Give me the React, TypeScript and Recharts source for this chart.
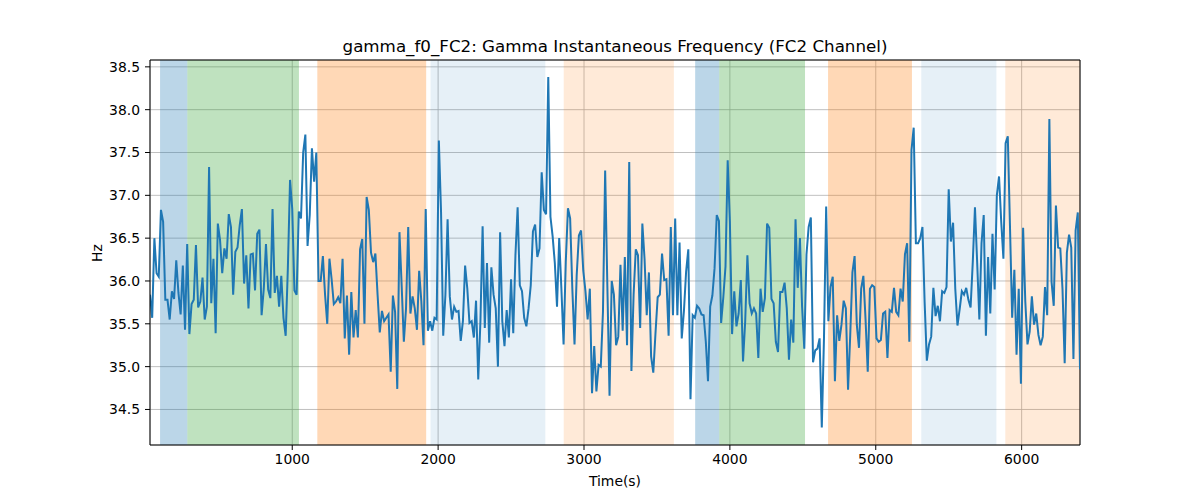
import { LineChart, Line, XAxis, YAxis, CartesianGrid, ReferenceArea, ReferenceLine } from 'recharts';

// sampling clock of the gamma f0 trace (seconds)
const SAMPLE_START = 25;
const SAMPLE_STEP = 15;

const gammaF0: number[] = [
  35.84, 35.57, 36.50, 36.09, 36.05, 36.83, 36.69, 35.78, 35.78, 35.55,
  35.88, 35.79, 36.24, 35.86, 35.61, 36.18, 35.43, 36.43, 35.38, 35.73,
  35.78, 36.42, 35.69, 35.76, 36.04, 35.55, 35.70, 37.33, 35.74, 36.26,
  35.39, 36.67, 36.48, 36.09, 36.38, 36.26, 36.78, 36.63, 35.84, 36.34,
  36.39, 36.65, 36.84, 35.97, 36.30, 35.68, 36.31, 36.32, 35.89, 36.55,
  36.60, 35.60, 35.91, 36.43, 35.90, 35.80, 36.84, 35.86, 36.06, 35.70,
  36.06, 35.57, 35.36, 36.15, 37.18, 36.84, 35.89, 35.84, 36.81, 36.73,
  37.50, 37.71, 36.41, 36.77, 37.55, 37.16, 37.50, 36.00, 36.00, 36.29,
  35.84, 35.50, 36.26, 36.02, 35.73, 35.76, 35.81, 35.74, 36.26, 35.33,
  35.83, 35.14, 35.87, 35.34, 35.66, 35.34, 36.37, 36.49, 35.50, 36.98,
  36.83, 36.33, 36.22, 36.32, 35.84, 35.40, 35.65, 35.53, 35.57, 35.61,
  34.94, 35.83, 35.64, 34.74, 36.57, 35.95, 35.29, 35.68, 36.63, 35.62,
  35.82, 35.68, 35.43, 36.12, 35.76, 35.25, 36.84, 35.42, 35.53, 35.42,
  35.57, 35.55, 37.64, 36.81, 35.36, 35.84, 36.72, 35.82, 35.55, 35.70,
  35.64, 35.65, 35.30, 35.53, 36.18, 35.91, 35.51, 35.53, 35.34, 35.77,
  34.85, 35.53, 36.64, 35.45, 36.21, 35.28, 36.16, 35.84, 35.68, 35.00,
  36.57, 35.53, 35.24, 35.66, 35.34, 36.02, 35.39, 36.30, 36.86, 35.95,
  35.88, 35.57, 35.47, 35.68, 35.95, 36.58, 36.66, 36.28, 36.38, 37.27,
  36.83, 36.78, 38.38, 36.75, 36.52, 36.21, 35.70, 36.50, 35.91, 35.26,
  36.22, 36.85, 36.73, 35.91, 35.26, 36.07, 36.53, 36.59, 36.12, 35.88,
  35.55, 35.91, 34.69, 35.24, 34.71, 35.02, 35.00, 35.64, 37.29, 35.95,
  34.66, 36.00, 35.84, 35.25, 35.35, 36.19, 35.42, 36.28, 35.25, 37.39,
  34.95, 35.84, 36.37, 36.30, 35.45, 36.67, 36.26, 35.60, 36.10, 35.12,
  34.93, 35.39, 35.81, 35.84, 36.32, 36.01, 36.02, 35.36, 36.63, 35.60,
  36.73, 35.60, 36.45, 35.33, 35.65, 36.11, 36.37, 34.62, 35.60, 35.57,
  35.71, 35.68, 35.61, 35.60, 35.29, 34.83, 35.70, 35.83, 36.15, 36.77,
  36.70, 35.51, 35.81, 36.17, 37.41, 36.69, 35.38, 35.88, 35.47, 35.62,
  36.01, 35.06, 35.53, 36.30, 35.74, 35.62, 35.68, 35.62, 35.10, 35.91,
  35.64, 35.80, 36.67, 36.62, 35.79, 35.74, 35.29, 35.17, 35.87, 35.87,
  35.98, 35.68, 35.08, 35.55, 35.28, 36.72, 35.92, 36.50, 35.70, 35.21,
  36.31, 36.63, 36.74, 35.05, 35.19, 35.21, 35.33, 34.29, 35.33, 36.87,
  35.53, 35.93, 36.05, 34.83, 35.60, 35.30, 35.49, 35.77, 35.68, 34.73,
  35.37, 36.10, 36.29, 35.49, 35.22, 35.91, 36.06, 35.55, 34.94, 35.91,
  35.95, 35.93, 35.33, 35.29, 35.31, 35.62, 35.64, 35.10, 35.66, 35.64,
  35.92, 35.64, 35.60, 35.91, 35.76, 36.31, 36.44, 35.29, 37.53, 37.79,
  36.44, 36.44, 36.50, 36.63, 35.75, 35.07, 35.26, 35.35, 35.92, 35.59,
  35.71, 35.53, 35.88, 35.86, 35.93, 37.07, 36.46, 36.68, 35.91, 35.48,
  35.67, 35.88, 35.84, 35.92, 35.78, 35.69, 36.22, 36.86, 36.22, 35.55,
  36.44, 36.77, 35.36, 36.28, 35.62, 36.55, 35.90, 37.00, 37.22, 36.69,
  36.26, 37.61, 37.69, 36.64, 35.57, 36.13, 35.14, 35.91, 34.80, 36.62,
  35.76, 35.26, 35.41, 35.82, 35.49, 35.62, 35.37, 35.25, 35.35, 35.93,
  35.60, 37.89, 35.99, 35.71, 36.88, 36.39, 36.38, 35.91, 35.04, 36.33,
  36.54, 36.39, 35.09, 36.59, 36.80, 34.97,
];

// shaded phases (seconds)
const spanStart = [94, 281, 1172, 1948, 2861, 3762, 3927, 4673, 5312, 5888];
const spanEnd = [281, 1046, 1918, 2735, 3616, 3927, 4515, 5248, 5827, 6400];
const spanKind = ['A', 'B', 'C', 'D', 'E', 'A', 'B', 'C', 'D', 'E'];

const xTicks = [1000, 2000, 3000, 4000, 5000, 6000];
const yTicks = [34.5, 35.0, 35.5, 36.0, 36.5, 37.0, 37.5, 38.0, 38.5];

const X_MIN = 25;
const X_MAX = 6400;
const Y_MIN = 34.085;
const Y_MAX = 38.58;

const kindStyle: Record<string, { fill: string; opacity: number }> = {
  A: { fill: '#1f77b4', opacity: 0.3 },
  B: { fill: '#2ca02c', opacity: 0.3 },
  C: { fill: '#ff7f0e', opacity: 0.3 },
  D: { fill: '#1f77b4', opacity: 0.11 },
  E: { fill: '#ff7f0e', opacity: 0.16 },
};

const data = gammaF0.map((hz, i) => ({ time: SAMPLE_START + i * SAMPLE_STEP, hz }));

const FONT = '"DejaVu Sans", sans-serif';
const tickStyle = { fontFamily: FONT, fontSize: 13.9, fill: '#000' };

export default function App() {
  return (
    <div style={{ position: 'absolute', left: 0, top: 0, width: 1200, height: 500, background: '#fff', fontFamily: FONT }}>
      <div style={{ position: 'absolute', left: 150, width: 930, top: 36, lineHeight: '20px', fontSize: 16.7, textAlign: 'center', color: '#000' }}>
        gamma_f0_FC2: Gamma Instantaneous Frequency (FC2 Channel)
      </div>
      <div style={{ position: 'absolute', left: 565, width: 100, top: 473, lineHeight: '16px', fontSize: 13.9, textAlign: 'center', color: '#000' }}>
        Time(s)
      </div>
      <div style={{ position: 'absolute', left: 47, width: 100, top: 245, lineHeight: '16px', fontSize: 13.9, textAlign: 'center', color: '#000', transform: 'rotate(-90deg)', transformOrigin: '50px 8px' }}>
        Hz
      </div>
      <LineChart width={1200} height={500} data={data} margin={{ top: 60, right: 120, bottom: 25, left: 0 }}>
        {spanStart.map((s, i) => (
          <ReferenceArea
            key={i}
            x1={s}
            x2={spanEnd[i]}
            y1={Y_MIN}
            y2={Y_MAX}
            fill={kindStyle[spanKind[i]].fill}
            fillOpacity={kindStyle[spanKind[i]].opacity}
            stroke="none"
            ifOverflow="hidden"
          />
        ))}
        <CartesianGrid stroke="#b0b0b0" strokeWidth={0.8} />
        <XAxis
          dataKey="time"
          type="number"
          domain={[X_MIN, X_MAX]}
          ticks={xTicks}
          allowDataOverflow
          height={30}
          tick={tickStyle}
          tickSize={5}
          tickMargin={4}
          axisLine={{ stroke: '#000', strokeWidth: 1 }}
          tickLine={{ stroke: '#000', strokeWidth: 1 }}
        />
        <YAxis
          type="number"
          domain={[Y_MIN, Y_MAX]}
          ticks={yTicks}
          allowDataOverflow
          width={150}
          tick={tickStyle}
          tickSize={5}
          tickMargin={5}
          tickFormatter={(v: number) => v.toFixed(1)}
          axisLine={{ stroke: '#000', strokeWidth: 1 }}
          tickLine={{ stroke: '#000', strokeWidth: 1 }}
        />
        <ReferenceLine y={Y_MAX} stroke="#000" strokeWidth={1} />
        <ReferenceLine x={X_MAX} stroke="#000" strokeWidth={1} />
        <Line type="linear" dataKey="hz" stroke="#1f77b4" strokeWidth={2} dot={false} isAnimationActive={false} />
      </LineChart>
    </div>
  );
}
